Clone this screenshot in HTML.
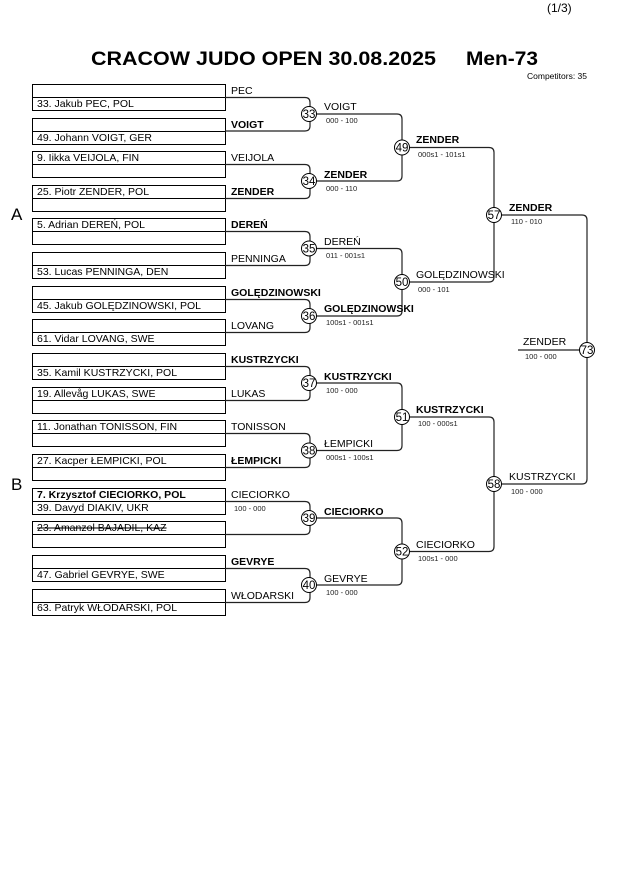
<!DOCTYPE html>
<html><head><meta charset="utf-8"><style>
html,body{margin:0;padding:0;background:#fff;}
svg{display:block;font-family:"Liberation Sans",Arial,sans-serif;}
.n{font-size:10.5px;fill:#000;}
.b{font-weight:bold;}
.s{font-size:7.5px;fill:#222;}
.c{fill:#fff;stroke:#000;stroke-width:1;}
.l{fill:none;stroke:#222;stroke-width:1.2;}
.x{fill:none;stroke:#000;stroke-width:1;}
</style></head><body>
<svg width="630" height="891" viewBox="0 0 630 891">
<text x="547" y="12" font-size="12">(1/3)</text>
<text x="91" y="65" font-size="19" font-weight="bold" textLength="345" lengthAdjust="spacingAndGlyphs">CRACOW JUDO OPEN  30.08.2025</text>
<text x="466" y="65" font-size="19" font-weight="bold" textLength="72" lengthAdjust="spacingAndGlyphs">Men-73</text>
<text x="527" y="79" font-size="8.5">Competitors: 35</text>
<text x="11" y="220" font-size="17">A</text>
<text x="11" y="490" font-size="17">B</text>

<g class="x">
<rect x="32.5" y="84.5" width="193" height="26"/><line x1="32" y1="97.5" x2="225" y2="97.5"/>
<rect x="32.5" y="118.5" width="193" height="26"/><line x1="32" y1="131.5" x2="225" y2="131.5"/>
<rect x="32.5" y="151.5" width="193" height="26"/><line x1="32" y1="164.5" x2="225" y2="164.5"/>
<rect x="32.5" y="185.5" width="193" height="26"/><line x1="32" y1="198.5" x2="225" y2="198.5"/>
<rect x="32.5" y="218.5" width="193" height="26"/><line x1="32" y1="231.5" x2="225" y2="231.5"/>
<rect x="32.5" y="252.5" width="193" height="26"/><line x1="32" y1="265.5" x2="225" y2="265.5"/>
<rect x="32.5" y="286.5" width="193" height="26"/><line x1="32" y1="299.5" x2="225" y2="299.5"/>
<rect x="32.5" y="319.5" width="193" height="26"/><line x1="32" y1="332.5" x2="225" y2="332.5"/>
<rect x="32.5" y="353.5" width="193" height="26"/><line x1="32" y1="366.5" x2="225" y2="366.5"/>
<rect x="32.5" y="387.5" width="193" height="26"/><line x1="32" y1="400.5" x2="225" y2="400.5"/>
<rect x="32.5" y="420.5" width="193" height="26"/><line x1="32" y1="433.5" x2="225" y2="433.5"/>
<rect x="32.5" y="454.5" width="193" height="26"/><line x1="32" y1="467.5" x2="225" y2="467.5"/>
<rect x="32.5" y="488.5" width="193" height="26"/><line x1="32" y1="501.5" x2="225" y2="501.5"/>
<rect x="32.5" y="521.5" width="193" height="26"/><line x1="32" y1="534.5" x2="225" y2="534.5"/>
<rect x="32.5" y="555.5" width="193" height="26"/><line x1="32" y1="568.5" x2="225" y2="568.5"/>
<rect x="32.5" y="589.5" width="193" height="26"/><line x1="32" y1="602.5" x2="225" y2="602.5"/>
</g>

<g class="n">
<text x="37" y="107">33. Jakub PEC, POL</text>
<text x="37" y="141">49. Johann VOIGT, GER</text>
<text x="37" y="161">9. Iikka VEIJOLA, FIN</text>
<text x="37" y="195">25. Piotr ZENDER, POL</text>
<text x="37" y="228">5. Adrian DEREŃ, POL</text>
<text x="37" y="275">53. Lucas PENNINGA, DEN</text>
<text x="37" y="309">45. Jakub GOLĘDZINOWSKI, POL</text>
<text x="37" y="342">61. Vidar LOVANG, SWE</text>
<text x="37" y="376">35. Kamil KUSTRZYCKI, POL</text>
<text x="37" y="397">19. Allevåg LUKAS, SWE</text>
<text x="37" y="430">11. Jonathan TONISSON, FIN</text>
<text x="37" y="464">27. Kacper ŁEMPICKI, POL</text>
<text x="37" y="498" class="b">7. Krzysztof CIECIORKO, POL</text>
<text x="37" y="511">39. Davyd DIAKIV, UKR</text>
<text x="37" y="531" text-decoration="line-through">23. Amanzol BAJADIL, KAZ</text>
<text x="37" y="578">47. Gabriel GEVRYE, SWE</text>
<text x="37" y="611">63. Patryk WŁODARSKI, POL</text>
</g>

<g class="n">
<text x="231" y="94">PEC</text>
<text x="231" y="128" class="b">VOIGT</text>
<text x="231" y="161">VEIJOLA</text>
<text x="231" y="195" class="b">ZENDER</text>
<text x="231" y="228" class="b">DEREŃ</text>
<text x="231" y="262">PENNINGA</text>
<text x="231" y="296" class="b">GOLĘDZINOWSKI</text>
<text x="231" y="329">LOVANG</text>
<text x="231" y="363" class="b">KUSTRZYCKI</text>
<text x="231" y="397">LUKAS</text>
<text x="231" y="430">TONISSON</text>
<text x="231" y="464" class="b">ŁEMPICKI</text>
<text x="231" y="498">CIECIORKO</text>
<text x="231" y="565" class="b">GEVRYE</text>
<text x="231" y="599">WŁODARSKI</text>
</g>
<text x="234" y="511" class="s">100 - 000</text>

<g class="l">
<path d="M225 97.5H305Q310 97.5 310 102.5V126Q310 131 305 131H225"/>
<path d="M225 164.5H305Q310 164.5 310 169.5V193.5Q310 198.5 305 198.5H225"/>
<path d="M225 231.5H305Q310 231.5 310 236.5V260.5Q310 265.5 305 265.5H225"/>
<path d="M225 299.5H305Q310 299.5 310 304.5V327.5Q310 332.5 305 332.5H225"/>
<path d="M225 366.5H305Q310 366.5 310 371.5V395.5Q310 400.5 305 400.5H225"/>
<path d="M225 433.5H305Q310 433.5 310 438.5V462.5Q310 467.5 305 467.5H225"/>
<path d="M225 501.5H305Q310 501.5 310 506.5V529.5Q310 534.5 305 534.5H225"/>
<path d="M225 568.5H305Q310 568.5 310 573.5V597.5Q310 602.5 305 602.5H225"/>
<path d="M316 114H397Q402 114 402 119V176Q402 181 397 181H316"/>
<path d="M316 248.5H397Q402 248.5 402 253.5V311Q402 316 397 316H316"/>
<path d="M316 383H397Q402 383 402 388V445.5Q402 450.5 397 450.5H316"/>
<path d="M316 518H397Q402 518 402 523V580Q402 585 397 585H316"/>
<path d="M409 147.5H489Q494 147.5 494 152.5V277Q494 282 489 282H409"/>
<path d="M409 417H489Q494 417 494 422V546.5Q494 551.5 489 551.5H409"/>
<path d="M501 215H582Q587 215 587 220V479Q587 484 582 484H501"/>
<line x1="518" y1="350" x2="587" y2="350"/>
</g>

<g font-size="11.5" text-anchor="middle">
<circle class="c" cx="309" cy="114" r="7.5"/><text x="309" y="118">33</text>
<circle class="c" cx="309" cy="181" r="7.5"/><text x="309" y="185">34</text>
<circle class="c" cx="309" cy="248.5" r="7.5"/><text x="309" y="252.5">35</text>
<circle class="c" cx="309" cy="316" r="7.5"/><text x="309" y="320">36</text>
<circle class="c" cx="309" cy="383" r="7.5"/><text x="309" y="387">37</text>
<circle class="c" cx="309" cy="450.5" r="7.5"/><text x="309" y="454.5">38</text>
<circle class="c" cx="309" cy="518" r="7.5"/><text x="309" y="522">39</text>
<circle class="c" cx="309" cy="585" r="7.5"/><text x="309" y="589">40</text>
<circle class="c" cx="402" cy="147.5" r="7.5"/><text x="402" y="151.5">49</text>
<circle class="c" cx="402" cy="282" r="7.5"/><text x="402" y="286">50</text>
<circle class="c" cx="402" cy="417" r="7.5"/><text x="402" y="421">51</text>
<circle class="c" cx="402" cy="551.5" r="7.5"/><text x="402" y="555.5">52</text>
<circle class="c" cx="494" cy="215" r="7.5"/><text x="494" y="219">57</text>
<circle class="c" cx="494" cy="484" r="7.5"/><text x="494" y="488">58</text>
<circle class="c" cx="587" cy="350" r="7.5"/><text x="587" y="354">73</text>
</g>

<g class="n">
<text x="324" y="110">VOIGT</text>
<text x="324" y="178" class="b">ZENDER</text>
<text x="324" y="245">DEREŃ</text>
<text x="324" y="312" class="b">GOLĘDZINOWSKI</text>
<text x="324" y="380" class="b">KUSTRZYCKI</text>
<text x="324" y="447">ŁEMPICKI</text>
<text x="324" y="515" class="b">CIECIORKO</text>
<text x="324" y="582">GEVRYE</text>
<text x="416" y="143" class="b">ZENDER</text>
<text x="416" y="278">GOLĘDZINOWSKI</text>
<text x="416" y="413" class="b">KUSTRZYCKI</text>
<text x="416" y="548">CIECIORKO</text>
<text x="509" y="211" class="b">ZENDER</text>
<text x="509" y="480">KUSTRZYCKI</text>
<text x="523" y="345">ZENDER</text>
</g>
<g class="s">
<text x="326" y="123">000 - 100</text>
<text x="326" y="191">000 - 110</text>
<text x="326" y="258">011 - 001s1</text>
<text x="326" y="325">100s1 - 001s1</text>
<text x="326" y="393">100 - 000</text>
<text x="326" y="460">000s1 - 100s1</text>
<text x="326" y="595">100 - 000</text>
<text x="418" y="157">000s1 - 101s1</text>
<text x="418" y="292">000 - 101</text>
<text x="418" y="426">100 - 000s1</text>
<text x="418" y="561">100s1 - 000</text>
<text x="511" y="224">110 - 010</text>
<text x="511" y="494">100 - 000</text>
<text x="525" y="359">100 - 000</text>
</g>
</svg>
</body></html>
